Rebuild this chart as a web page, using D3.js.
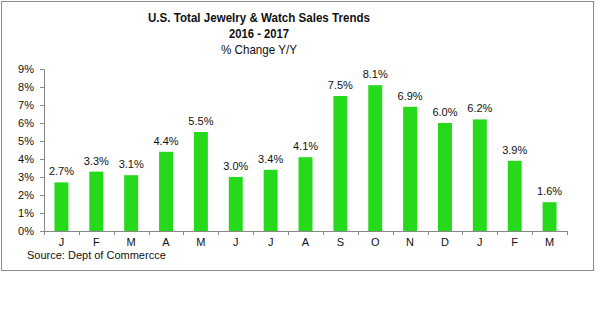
<!DOCTYPE html>
<html>
<head>
<meta charset="utf-8">
<script src="https://cdn.jsdelivr.net/npm/d3@7"></script>
<style>
  body { margin: 0; background: #fff; }
  svg { display: block; font-family: "Liberation Sans", Arial, sans-serif; }
</style>
</head>
<body>
<div id="chart"></div>
<script>
const months = ["J", "F", "M", "A", "M", "J", "J", "A", "S", "O", "N", "D", "J", "F", "M"]
const pctChange = [2.7, 3.3, 3.1, 4.4, 5.5, 3.0, 3.4, 4.1, 7.5, 8.1, 6.9, 6.0, 6.2, 3.9, 1.6]
const yTicks = [0, 1, 2, 3, 4, 5, 6, 7, 8, 9]
const titleLines = ["U.S. Total Jewelry & Watch Sales Trends", "2016  - 2017"]
const subTitle = "% Change  Y/Y"
const sourceNote = "Source:  Dept of Commercce"

const width = 600, height = 329
const margin = { left: 44, right: 33, top: 69, bottom: 98 }

const svg = d3.select("#chart").append("svg")
  .attr("width", width)
  .attr("height", height)

// outer frame
svg.append("rect")
  .attr("x", 1.5).attr("y", 1.5)
  .attr("width", 592).attr("height", 269)
  .attr("fill", "#fff")
  .attr("stroke", "#8c8c8c")

const x = d3.scaleBand()
  .domain(d3.range(months.length))
  .range([margin.left, width - margin.right])
  .paddingInner(0.6)
  .paddingOuter(0.3)

const y = d3.scaleLinear()
  .domain([0, 9])
  .range([height - margin.bottom, margin.top])

// titles (the original font is a narrow one, so squeeze to its width)
const titleWidths = [222, 60]
svg.selectAll("text.title")
  .data(titleLines)
  .enter().append("text")
  .attr("class", "title")
  .attr("x", 259)
  .attr("y", (d, i) => 22 + i * 15.5)
  .attr("text-anchor", "middle")
  .attr("font-size", 13.5)
  .attr("font-weight", "bold")
  .attr("fill", "#111")
  .attr("textLength", (d, i) => titleWidths[i])
  .attr("lengthAdjust", "spacingAndGlyphs")
  .text(d => d)

svg.append("text")
  .attr("x", 259).attr("y", 53.5)
  .attr("text-anchor", "middle")
  .attr("font-size", 13)
  .attr("fill", "#111")
  .attr("textLength", 76)
  .attr("lengthAdjust", "spacingAndGlyphs")
  .text(subTitle)

// y axis
const yAxis = d3.axisLeft(y)
  .tickValues(yTicks)
  .tickFormat(d => d + "%")
  .tickSize(4)
  .tickPadding(6)

const gy = svg.append("g")
  .attr("transform", "translate(" + margin.left + ",0)")
  .call(yAxis)
gy.select(".domain").attr("stroke", "#888")
gy.selectAll(".tick line").attr("stroke", "#888")
gy.selectAll(".tick text").attr("font-size", 11).attr("fill", "#111")
  .attr("font-family", "Liberation Sans, Arial, sans-serif")

// x axis line with ticks between categories
const xLeft = margin.left, xRight = width - margin.right
const bandStep = (xRight - xLeft) / months.length
const gx = svg.append("g")
svg.append("line")
  .attr("x1", xLeft).attr("x2", xRight)
  .attr("y1", y(0) + 0.5).attr("y2", y(0) + 0.5)
  .attr("stroke", "#888")
gx.selectAll("line.sep")
  .data(d3.range(months.length + 1))
  .enter().append("line")
  .attr("class", "sep")
  .attr("x1", i => Math.round(xLeft + i * bandStep) + 0.5)
  .attr("x2", i => Math.round(xLeft + i * bandStep) + 0.5)
  .attr("y1", y(0)).attr("y2", y(0) + 4)
  .attr("stroke", "#888")

gx.selectAll("text.cat")
  .data(months)
  .enter().append("text")
  .attr("class", "cat")
  .attr("x", (d, i) => x(i) + x.bandwidth() / 2)
  .attr("y", y(0) + 15)
  .attr("text-anchor", "middle")
  .attr("font-size", 11)
  .attr("fill", "#111")
  .text(d => d)

// bars
svg.selectAll("rect.bar")
  .data(pctChange)
  .enter().append("rect")
  .attr("class", "bar")
  .attr("x", (d, i) => x(i))
  .attr("y", d => y(d))
  .attr("width", x.bandwidth())
  .attr("height", d => y(0) - y(d))
  .attr("fill", "#27d91b")

// value labels
svg.selectAll("text.val")
  .data(pctChange)
  .enter().append("text")
  .attr("class", "val")
  .attr("x", (d, i) => x(i) + x.bandwidth() / 2)
  .attr("y", d => y(d) - 7)
  .attr("text-anchor", "middle")
  .attr("font-size", 11)
  .attr("fill", "#111")
  .text(d => d.toFixed(1) + "%")

svg.append("text")
  .attr("x", 27).attr("y", 259)
  .attr("font-size", 11)
  .attr("fill", "#111")
  .text(sourceNote)
</script>
</body>
</html>
